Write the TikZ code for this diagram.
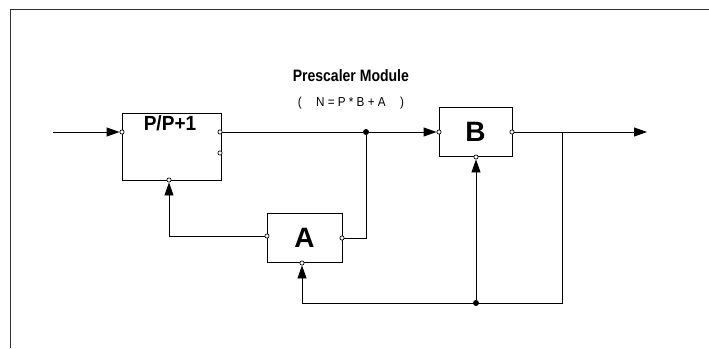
\documentclass[tikz,border=0pt]{standalone}
\usepackage{fontspec}
\setmainfont{Liberation Sans}
\usetikzlibrary{arrows.meta}
\begin{document}
\begin{tikzpicture}[x=1pt,y=-1pt,
  line width=0.9pt,
  box/.style={draw, line width=0.9pt, inner sep=0pt},
  pin/.style={circle, draw, fill=white, inner sep=0pt, minimum size=4.2pt, line width=0.7pt},
  dot/.style={circle, fill=black, inner sep=0pt, minimum size=6pt},
  arr/.style={-{Triangle[length=13pt,width=9pt]}},
  big/.style={font=\fontsize{28}{30}\selectfont\bfseries},
  frame/.style={draw=black!80, line width=1.4pt}]
\useasboundingbox (0,0) rectangle (709,348);
\draw[frame] (10.5,348) -- (10.5,9.5) -- (709,9.5);
% title
\node[anchor=west, font=\fontsize{16.5}{18}\selectfont\bfseries] (title) at (289,76) {\scalebox{0.85}[1]{Prescaler Module}};
\node[anchor=west, font=\fontsize{13}{15}\selectfont] (formula) at (294,103) {\scalebox{0.9}[1]{(\hspace{16pt}N = P * B + A\hspace{16pt})}};
% boxes
\node[box, minimum width=99pt, minimum height=67pt] (pp) at (171.5,146.5) {};
\node[font=\fontsize{20.5}{22}\selectfont\bfseries] (ppl) at (170,123) {\scalebox{0.93}[1]{P/P+1}};
\node[box, minimum width=75pt, minimum height=49pt, big] (a) at (304.5,237.5) {A};
\node[box, minimum width=73pt, minimum height=49pt, big] (b) at (475.5,131.5) {B};
% pins
\node[pin] (ppIn) at (122,132) {};
\node[pin] (ppOut) at (220,132) {};
\node[pin] (ppMid) at (220,153) {};
\node[pin] (ppBot) at (169,180) {};
\node[pin] (aIn) at (267,236) {};
\node[pin] (aOut) at (342,238) {};
\node[pin] (aBot) at (302,263) {};
\node[pin] (bIn) at (439,132) {};
\node[pin] (bOut) at (512,132) {};
\node[pin] (bBot) at (476,157) {};
% junctions and ends
\node[dot] (j1) at (366,132) {};
\node[dot] (j2) at (476,303) {};
\coordinate (in) at (53,132);
\coordinate (out) at (647,132);
\coordinate (br) at (562,132);
\coordinate (c3) at (302,303);
% connectors
\draw[arr] (in) -- (ppIn);
\draw (ppOut) -- (j1);
\draw[arr] (j1) -- (bIn);
\draw (aOut) -| (j1);
\draw[arr] (aIn) -| (ppBot);
\draw[arr] (bOut) -- (out);
\draw[arr] (br) |- (c3) -- (aBot);
\draw[arr] (j2) -- (bBot);
\end{tikzpicture}
\end{document}
